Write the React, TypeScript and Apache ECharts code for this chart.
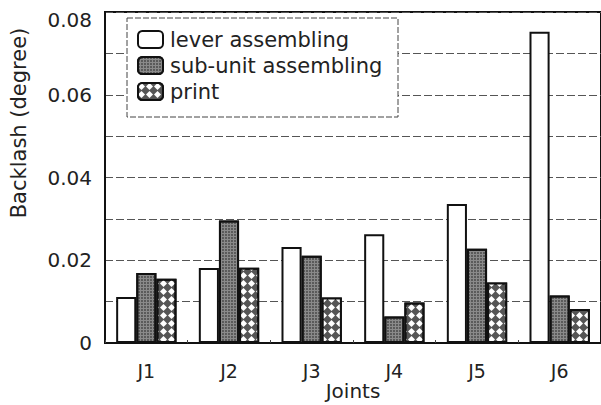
import React, { useEffect, useRef } from "react";
import * as echarts from "echarts";

const categories = ["J1", "J2", "J3", "J4", "J5", "J6"];
const leverAssembling = [0.0111, 0.0181, 0.0232, 0.0263, 0.0336, 0.0752];
const subUnitAssembling = [0.0169, 0.0296, 0.0211, 0.0064, 0.0228, 0.0115];
const printValues = [0.0155, 0.0182, 0.011, 0.0098, 0.0146, 0.0082];
const seriesNames = ["lever assembling", "sub-unit assembling", "print"];

const FONT = "DejaVu Sans";
const TXT = "#222";

export default function App() {
  const ref = useRef<HTMLDivElement>(null);
  useEffect(() => {
    if (!ref.current) return;
    const chart = echarts.init(ref.current, null, { renderer: "svg" });
    const border = { borderColor: "#111", borderWidth: 2 };
    chart.setOption({
      animation: false,
      backgroundColor: "#fff",
      textStyle: { fontFamily: FONT, color: TXT },
      grid: {
        left: 105,
        right: 0,
        top: 12,
        bottom: 62,
        outerBoundsMode: "none",
        containLabel: false,
        show: true,
        borderColor: "#111",
        borderWidth: 2,
        backgroundColor: "transparent",
      },
      graphic: [
        {
          type: "rect",
          z: 5,
          shape: { x: 127, y: 18, width: 271, height: 99 },
          style: { fill: "#fff", stroke: "#444", lineWidth: 1, lineDash: [6, 2] },
        },
      ],
      legend: {
        z: 10,
        orient: "vertical",
        left: 137,
        top: 29,
        itemWidth: 25,
        itemHeight: 17,
        itemGap: 5,
        padding: 0,
        textStyle: { fontFamily: FONT, fontSize: 21, color: TXT, padding: [0, 0, 0, 2] },
        data: seriesNames,
      },
      xAxis: {
        type: "category",
        data: categories,
        name: "Joints",
        nameLocation: "middle",
        nameGap: 38,
        nameMoveOverlap: false,
        nameTextStyle: { fontFamily: FONT, fontSize: 20, color: TXT },
        axisLine: { show: true, lineStyle: { color: "#111", width: 2 } },
        axisTick: { show: true, inside: true, length: 3, lineStyle: { color: "#444" } },
        axisLabel: { fontFamily: FONT, fontSize: 19, color: TXT, margin: 18 },
      },
      yAxis: {
        type: "value",
        min: 0,
        max: 0.08,
        interval: 0.01,
        name: "Backlash (degree)",
        nameLocation: "middle",
        nameGap: 76,
        nameMoveOverlap: false,
        nameTextStyle: { fontFamily: FONT, fontSize: 21, color: TXT, padding: [0, 0, 0, 109] },
        axisLine: { show: true, lineStyle: { color: "#111", width: 2 } },
        axisTick: { show: false },
        axisLabel: {
          fontFamily: FONT,
          fontSize: 20,
          color: TXT,
          margin: 13,
          formatter: (v: number) => {
            const k = Math.round(v * 100);
            if (k % 2 !== 0) return "";
            if (k === 8) return "{t|0.08}";
            return k === 0 ? "0" : (k / 100).toFixed(2);
          },
          rich: {
            t: { fontFamily: FONT, fontSize: 20, color: TXT, padding: [16, 0, 0, 0] },
          },
        },
        splitLine: { show: true, lineStyle: { color: "#555", type: [8, 3], width: 1 } },
      },
      series: [
        {
          name: seriesNames[0],
          type: "bar",
          data: leverAssembling,
          barGap: "0%",
          barCategoryGap: "27%",
          itemStyle: { color: "#fff", ...border },
        },
        {
          name: seriesNames[1],
          type: "bar",
          data: subUnitAssembling,
          itemStyle: {
            color: "#8a8a8a",
            ...border,
            decal: {
              symbol: "rect",
              symbolSize: 0.8,
              color: "#3a3a3a",
              dashArrayX: [2, 1],
              dashArrayY: [2, 1],
              rotation: 0,
            },
          },
        },
        {
          name: seriesNames[2],
          type: "bar",
          data: printValues,
          itemStyle: {
            color: "#555",
            ...border,
            decal: {
              symbol: "diamond",
              symbolSize: 1,
              color: "#fff",
              dashArrayX: [7, 1],
              dashArrayY: [7, 1],
              rotation: 0,
            },
          },
        },
      ],
    });
    return () => chart.dispose();
  }, []);
  return (
    <div
      ref={ref}
      style={{ position: "absolute", left: 0, top: 0, width: 601, height: 405 }}
    />
  );
}
